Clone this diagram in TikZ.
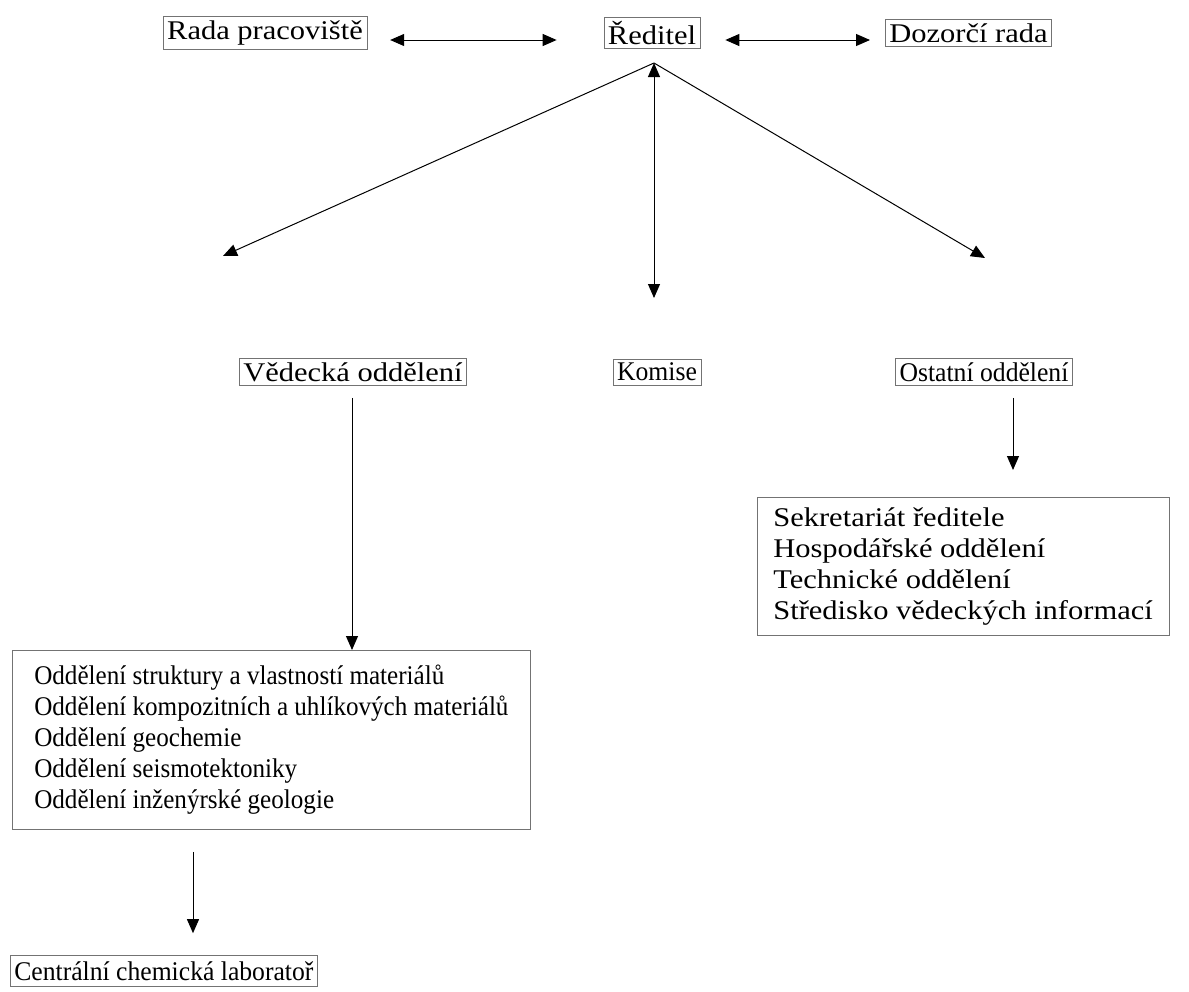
\documentclass[tikz,border=0pt]{standalone}
\usepackage{fontspec}
\setmainfont{Liberation Serif}[FakeStretch=1.13]
\newfontfamily\narrowserif{Liberation Serif}[FakeStretch=0.95]
\newfontfamily\listserif{Liberation Serif}[FakeStretch=0.93]
\usetikzlibrary{arrows.meta}
\begin{document}
\begin{tikzpicture}[x=1pt,y=-1pt,
  every node/.style={font=\fontsize{27}{31}\selectfont},
  box/.style={draw=black!55, line width=0.6pt, inner xsep=4pt, inner ysep=4pt},
  narrowbox/.style={box, font=\fontsize{27}{31}\narrowserif},
  listbox/.style={box, align=left, inner xsep=16pt, inner ysep=10pt},
  arr/.style={line width=1pt, -{Triangle[length=14pt,width=12pt]}},
  dbl/.style={line width=1pt, {Triangle[length=14pt,width=12pt]}-{Triangle[length=14pt,width=12pt]}}]
\useasboundingbox (0,0) rectangle (1189,991);
% top row
\node[box] (rada) at (265,33) {Rada pracoviště};
\node[box] (reditel) at (652,33) {Ředitel};
\node[box, anchor=west] (dozorci) at (885,33) {Dozorčí rada};
\draw[dbl] ([shift={(23,7)}]rada.east) -- ([shift={(-47,7)}]reditel.west);
\draw[dbl] ([shift={(25,7)}]reditel.east) -- ([shift={(-15,7)}]dozorci.west);
% second row
\node[box] (vedecka) at (353,372) {Vědecká oddělení};
\node[narrowbox] (komise) at (657,372) {Komise};
\node[narrowbox] (ostatni) at (984,372) {Ostatní oddělení};
\coordinate (apex) at (654,63);
\coordinate (vtip) at (223,256);
\coordinate (otip) at (985,258);
\coordinate (ktip) at (654,298);
\draw[arr] (apex) -- (vtip);
\draw[arr] (apex) -- (otip);
\draw[dbl] (apex) -- (ktip);
% lists
\node[box, align=left, inner xsep=22pt, inner ysep=15pt,
      font=\fontsize{27}{31}\listserif, anchor=north west] (vedlist) at (12,650)
 {Oddělení struktury a vlastností materiálů\\
Oddělení kompozitních a uhlíkových materiálů\\
Oddělení geochemie\\
Oddělení seismotektoniky\\
Oddělení inženýrské geologie};
\node[listbox, anchor=north west] (ostlist) at (757,497) {Sekretariát ředitele\\
Hospodářské oddělení\\
Technické oddělení\\
Středisko vědeckých informací};
\node[narrowbox, anchor=west, inner ysep=6pt] (centr) at (10,971) {Centrální chemická laboratoř};
\draw[arr, shorten <=12pt] (vedecka.south -| 352,0) -- (vedlist.north -| 352,0);
\draw[arr, shorten <=12pt, shorten >=27pt] (ostatni.south -| 1013,0) -- (ostlist.north -| 1013,0);
\draw[arr, shorten <=22pt, shorten >=22pt] (vedlist.south -| 193,0) -- (centr.north -| 193,0);
\end{tikzpicture}
\end{document}
